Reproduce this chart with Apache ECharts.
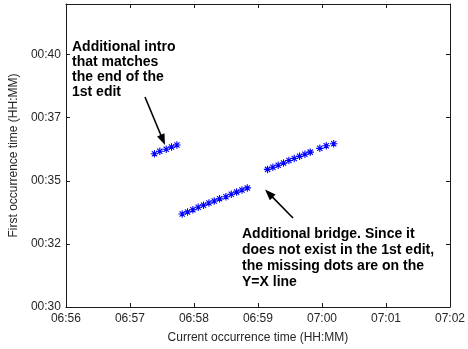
<!DOCTYPE html>
<html>
<head>
<meta charset="utf-8">
<script src="https://cdn.jsdelivr.net/npm/echarts@6/dist/echarts.min.js"></script>
<style>
  html, body { margin: 0; padding: 0; background: #ffffff; }
  #chart { width: 468px; height: 349px; }
</style>
</head>
<body>
<div id="chart"></div>
<script>
// Occurrence times (HH:MM:SS): current time on x, first occurrence time on y.
const introCurrent = ['06:57:23', '06:57:28', '06:57:34', '06:57:39', '06:57:44'];
const introFirst   = ['00:36:04', '00:36:10', '00:36:15', '00:36:20', '00:36:25'];

const bridgeCurrent = ['06:57:49', '06:57:54', '06:57:59', '06:58:04', '06:58:09', '06:58:14', '06:58:19',
                       '06:58:24', '06:58:30', '06:58:35', '06:58:40', '06:58:45', '06:58:50'];
const bridgeFirst   = ['00:33:41', '00:33:46', '00:33:51', '00:33:57', '00:34:02', '00:34:07', '00:34:12',
                       '00:34:17', '00:34:22', '00:34:28', '00:34:33', '00:34:38', '00:34:43'];

const mainCurrent = ['06:59:09', '06:59:14', '06:59:19', '06:59:24', '06:59:29', '06:59:34', '06:59:39',
                     '06:59:44', '06:59:49'];
const mainFirst   = ['00:35:27', '00:35:32', '00:35:37', '00:35:42', '00:35:48', '00:35:53', '00:35:58',
                     '00:36:03', '00:36:08'];

const tailCurrent = ['06:59:58', '07:00:04', '07:00:11'];
const tailFirst   = ['00:36:17', '00:36:23', '00:36:28'];

// Axis ranges and tick steps (HH:MM:SS)
const xRange = ['06:56:00', '07:02:00'];
const xStep = '00:01:00';
const yRange = ['00:30:00', '00:42:00'];
const yStep = '00:02:30';

const xName = 'Current occurrence time (HH:MM)';
const yName = 'First occurrence time (HH:MM)';

const introNote = 'Additional intro\nthat matches\nthe end of the\n1st edit';
const bridgeNote = 'Additional bridge. Since it\ndoes not exist in the 1st edit,\nthe missing dots are on the\nY=X line';

function toSec(t) {
  const p = t.split(':').map(Number);
  return p[0] * 3600 + p[1] * 60 + (p[2] || 0);
}
function hhmm(v) {
  const m = Math.floor(Math.round(v) / 60);
  const h = Math.floor(m / 60);
  const mm = m % 60;
  return String(h).padStart(2, '0') + ':' + String(mm).padStart(2, '0');
}
function pairs(xs, ys) {
  return xs.map((x, i) => [toSec(x), toSec(ys[i])]);
}

const points = []
  .concat(pairs(introCurrent, introFirst))
  .concat(pairs(bridgeCurrent, bridgeFirst))
  .concat(pairs(mainCurrent, mainFirst))
  .concat(pairs(tailCurrent, tailFirst));

const xMin = toSec(xRange[0]), xMax = toSec(xRange[1]), xInt = toSec(xStep);
const yMin = toSec(yRange[0]), yMax = toSec(yRange[1]), yInt = toSec(yStep);

const FONT = '"Liberation Sans", Arial, Helvetica, sans-serif';
const AXIS_COLOR = '#1a1a1a';
const TEXT_COLOR = '#262626';

function axisBase() {
  return {
    type: 'value',
    splitLine: { show: false },
    axisLine: { show: true, onZero: false, lineStyle: { color: AXIS_COLOR, width: 1 } },
    axisTick: { show: true, inside: true, length: 4, lineStyle: { color: AXIS_COLOR, width: 1 } },
  };
}

// Arrow: shaft plus filled head, tail -> tip in pixels
function arrow(x1, y1, x2, y2) {
  const dx = x2 - x1, dy = y2 - y1;
  const len = Math.sqrt(dx * dx + dy * dy);
  const ux = dx / len, uy = dy / len;
  const headLen = 11, halfW = 4;
  const bx = x2 - ux * headLen, by = y2 - uy * headLen;
  return [
    {
      type: 'line',
      shape: { x1: x1, y1: y1, x2: bx + ux * 2, y2: by + uy * 2 },
      style: { stroke: '#000000', lineWidth: 1.6 },
      silent: true
    },
    {
      type: 'polygon',
      shape: { points: [[x2, y2], [bx - uy * halfW, by + ux * halfW], [bx + uy * halfW, by - ux * halfW]] },
      style: { fill: '#000000' },
      silent: true
    }
  ];
}

const chart = echarts.init(document.getElementById('chart'), null, { renderer: 'canvas' });

const option = {
  animation: false,
  backgroundColor: '#ffffff',
  grid: { left: 63, right: 13, top: 4, bottom: 36, containLabel: false },
  xAxis: [
    Object.assign(axisBase(), {
      position: 'bottom',
      min: xMin, max: xMax, interval: xInt,
      name: xName,
      nameLocation: 'middle',
      nameGap: 25,
      nameTextStyle: { fontFamily: FONT, fontSize: 12, color: TEXT_COLOR },
      axisLabel: {
        margin: 6,
        fontFamily: FONT, fontSize: 12, color: TEXT_COLOR,
        formatter: v => hhmm(v)
      }
    }),
    Object.assign(axisBase(), {
      position: 'top',
      min: xMin, max: xMax, interval: xInt,
      axisLabel: { show: false }
    })
  ],
  yAxis: [
    Object.assign(axisBase(), {
      position: 'left',
      min: yMin, max: yMax, interval: yInt,
      name: yName,
      nameLocation: 'middle',
      nameGap: 40,
      nameTextStyle: { fontFamily: FONT, fontSize: 12, color: TEXT_COLOR },
      axisLabel: {
        margin: 5,
        showMaxLabel: false,
        fontFamily: FONT, fontSize: 12, color: TEXT_COLOR,
        formatter: v => (v >= yMax ? '' : hhmm(v))
      }
    }),
    Object.assign(axisBase(), {
      position: 'right',
      min: yMin, max: yMax, interval: yInt,
      axisLabel: { show: false }
    })
  ],
  series: [
    {
      type: 'scatter',
      xAxisIndex: 0,
      yAxisIndex: 0,
      data: points,
      symbol: 'path://M0 5L10 5M5 0L5 10M1.5 1.5L8.5 8.5M8.5 1.5L1.5 8.5',
      symbolSize: 7.5,
      itemStyle: { color: 'transparent', borderColor: '#0000ff', borderWidth: 1.1, opacity: 1 },
      emphasis: { disabled: true }
    }
  ],
  graphic: [
    {
      type: 'text',
      left: 72, top: 40,
      silent: true,
      style: {
        text: introNote,
        font: 'bold 14px ' + FONT,
        fill: '#000000',
        lineHeight: 15
      }
    },
    {
      type: 'text',
      left: 242, top: 226,
      silent: true,
      style: {
        text: bridgeNote,
        font: 'bold 14px ' + FONT,
        fill: '#000000',
        lineHeight: 16
      }
    }
  ]
    .concat(arrow(145, 97, 165, 145))
    .concat(arrow(293, 218, 265, 189.5))
};

chart.setOption(option);
</script>
</body>
</html>
